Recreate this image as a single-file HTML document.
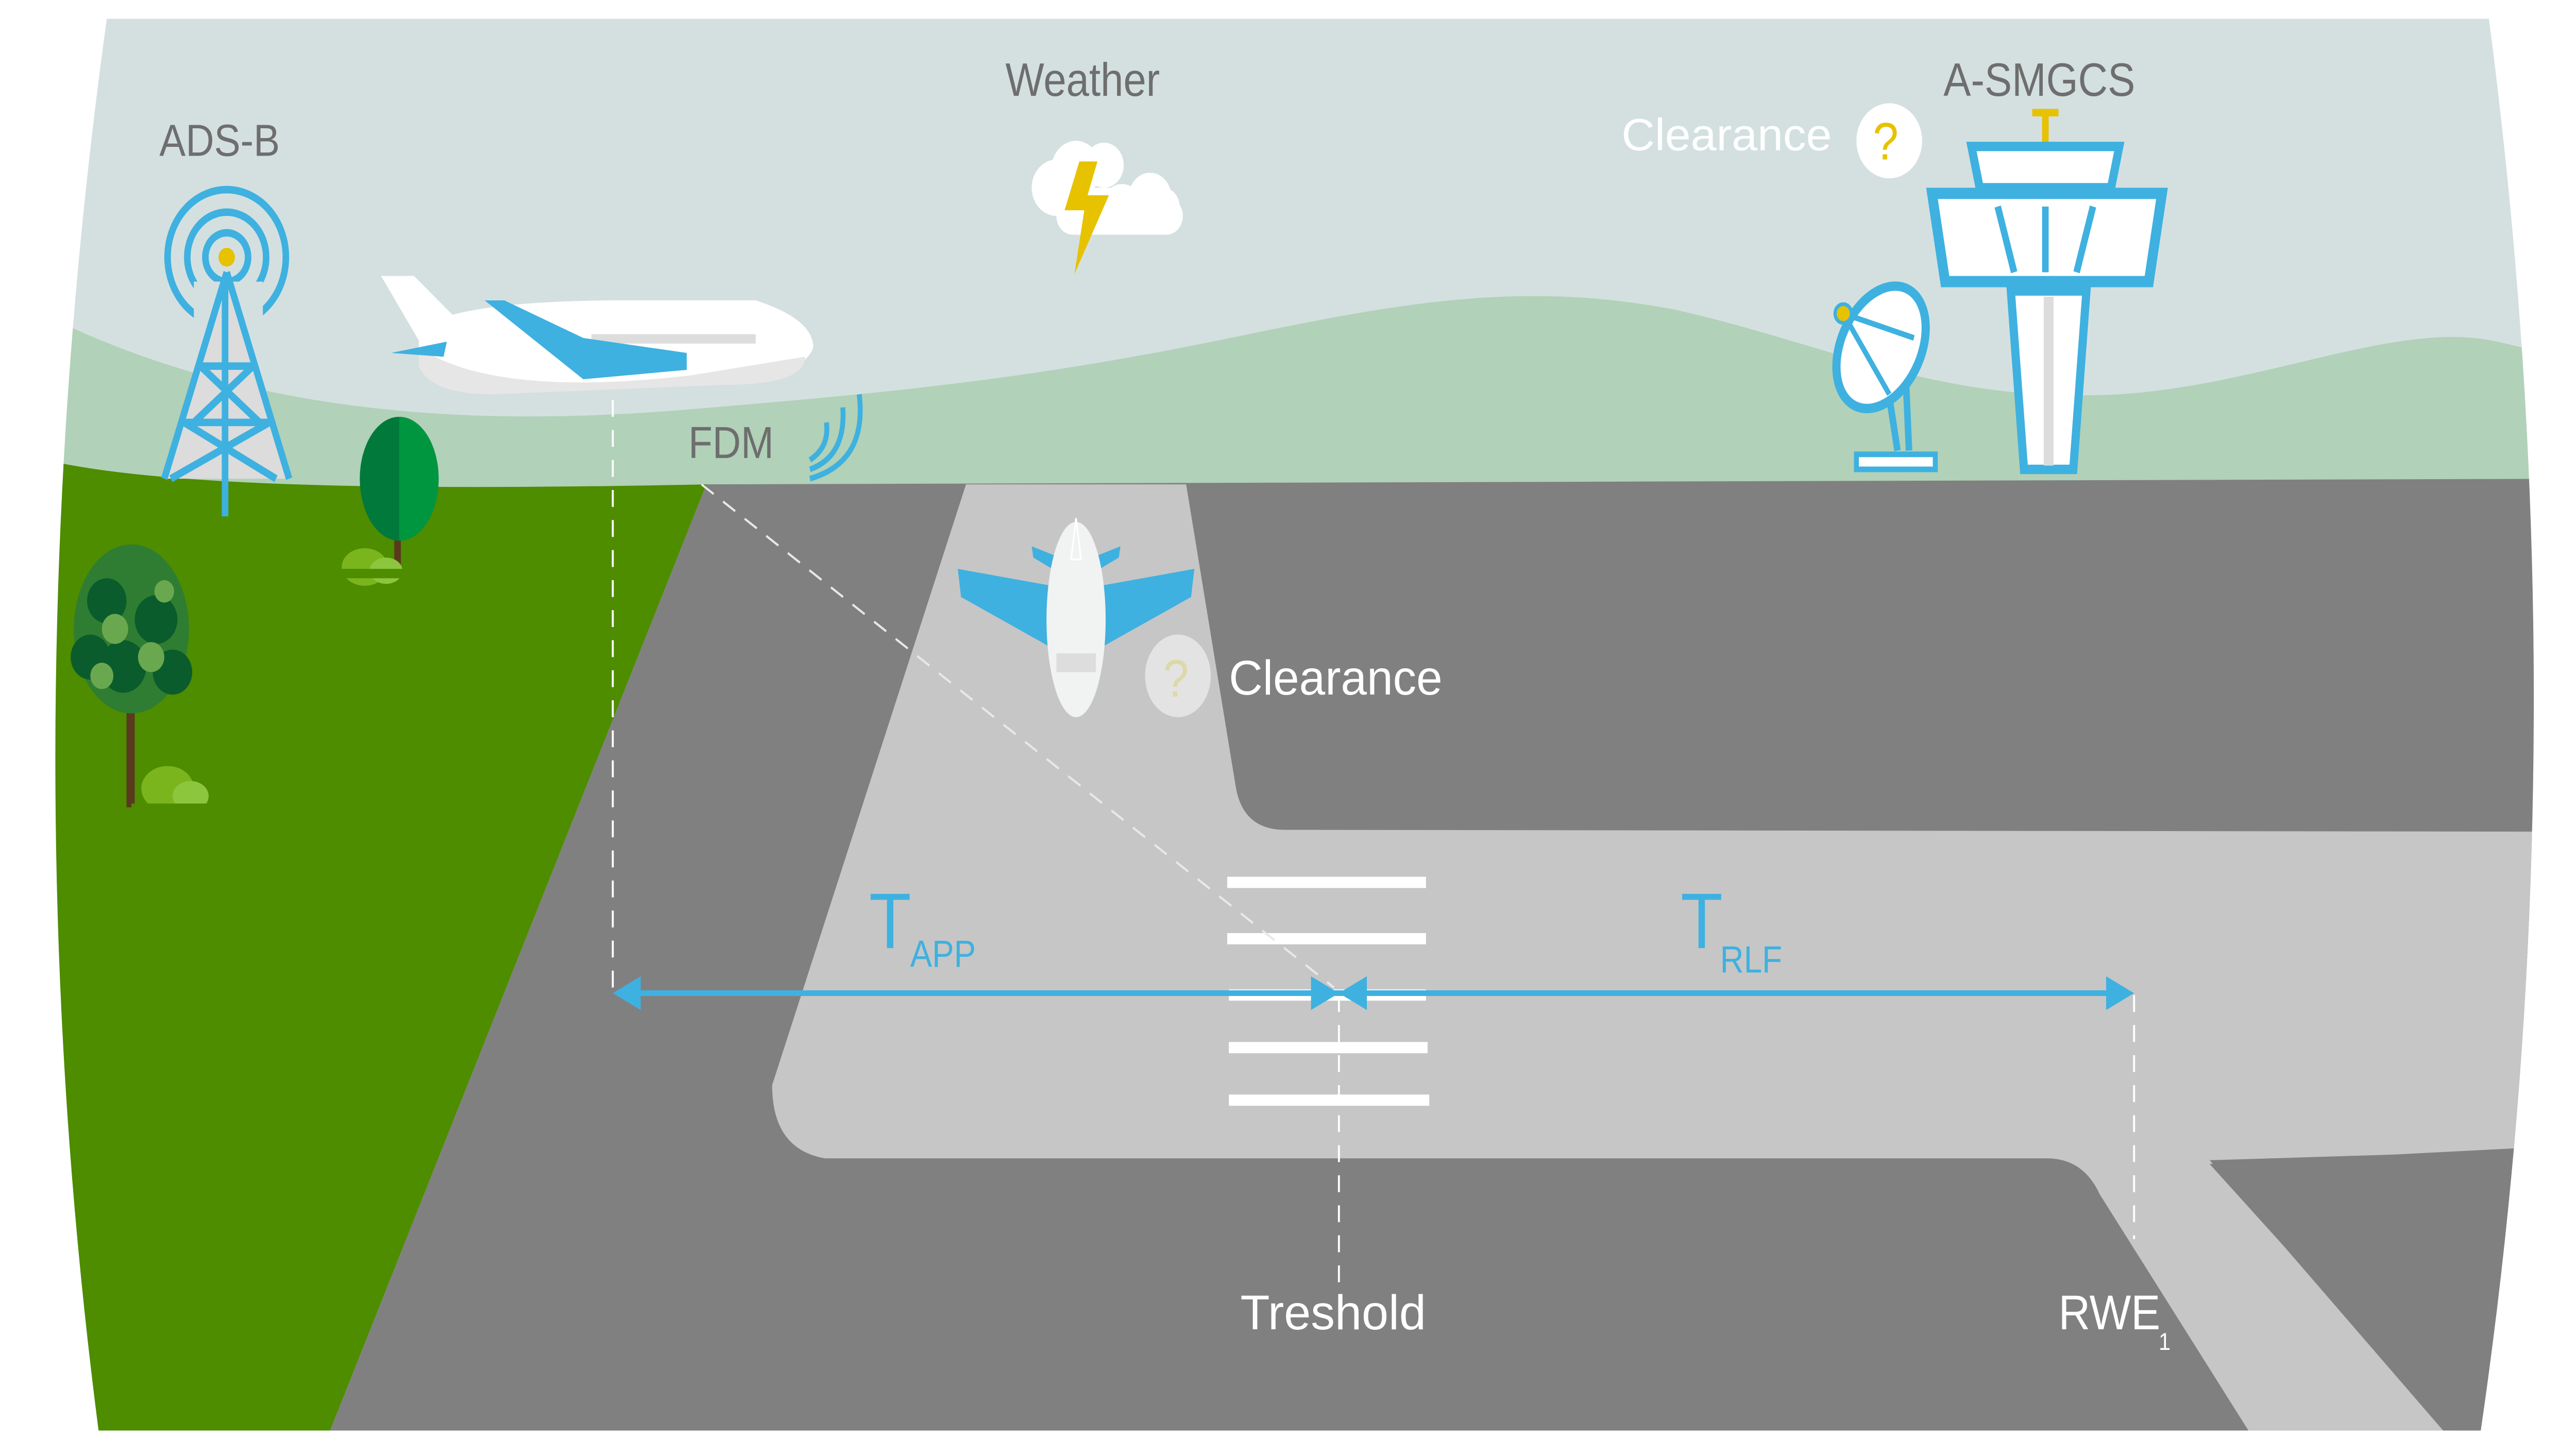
<!DOCTYPE html>
<html><head><meta charset="utf-8"><style>
html,body{margin:0;padding:0;background:#fff;overflow:hidden;width:100%;height:100%;}
svg{display:block;width:100vw;height:100vh;}
text{font-family:"Liberation Sans",sans-serif;}
</style></head><body>
<svg viewBox="0 0 1568 775" preserveAspectRatio="none" xmlns="http://www.w3.org/2000/svg">
<defs>
<clipPath id="frame"><path d="M65,10 L1515,10 Q1572,390 1510,762 L60,762 Q5,390 65,10 Z"/></clipPath>
</defs>
<rect width="1568" height="775" fill="#fff"/>
<g clip-path="url(#frame)">
<rect x="0" y="0" width="1568" height="775" fill="#d4e0e0"/>
<path d="M0,155 C120,215 260,230 420,218 C560,208 640,200 760,178 C860,160 930,150 1020,165 C1120,185 1180,215 1290,210 C1380,205 1460,170 1520,182 C1545,187 1560,190 1568,195 L1568,262 L0,262 Z" fill="#b1d1b8"/>
<path d="M0,238 C60,258 200,262 430,258 L195,775 L0,775 Z" fill="#4e8c00"/>
<path d="M430,258 L1568,255 L1568,775 L195,775 Z" fill="#808080"/>
<path d="M588,258 L722,258 L752,418 Q756,442 782,442 L1568,443 L1568,612 L1345,618 L1500,775 L1378,775 L1278,636 Q1268,617 1246,617 L502,617 Q470,612 470,578 Z" fill="#c6c6c6"/>
<path d="M1345,620 L1568,610 L1568,775 L1505,775 Z" fill="#808080"/>
<g fill="#fff">
<rect x="747" y="467" width="121" height="6"/>
<rect x="747" y="497" width="121" height="6"/>
<rect x="748" y="527" width="120" height="6"/>
<rect x="748" y="555" width="121" height="6"/>
<rect x="748" y="583" width="122" height="6"/>
</g>
<g stroke="#fff" stroke-width="1.2" stroke-dasharray="9,7" fill="none">
<line x1="373" y1="213" x2="373" y2="530"/>
<line x1="815" y1="530" x2="815" y2="685"/>
<line x1="1299" y1="530" x2="1299" y2="660"/>
</g>
<line x1="427" y1="258" x2="812" y2="526" stroke="#e8e8e8" stroke-width="1.2" stroke-dasharray="9,7"/>
<line x1="380" y1="529" x2="1290" y2="529" stroke="#3eb1e0" stroke-width="3"/>
<path d="M373,529 L390,520 L390,538 Z" fill="#3eb1e0"/>
<path d="M815,529 L798,520 L798,538 Z" fill="#3eb1e0"/>
<path d="M815,529 L832,520 L832,538 Z" fill="#3eb1e0"/>
<path d="M1299,529 L1282,520 L1282,538 Z" fill="#3eb1e0"/>
<text x="529" y="505" font-size="42" fill="#3eb1e0">T</text>
<text x="554" y="515" font-size="20" fill="#3eb1e0">APP</text>
<text x="1023" y="505" font-size="42" fill="#3eb1e0">T</text>
<text x="1047" y="518" font-size="20" fill="#3eb1e0">RLF</text>
<text x="755" y="708" font-size="26" fill="#fff" textLength="113" lengthAdjust="spacingAndGlyphs">Treshold</text>
<text x="1253" y="708" font-size="26" fill="#fff" textLength="62" lengthAdjust="spacingAndGlyphs">RWE</text>
<text x="1314" y="719" font-size="13" fill="#fff">1</text>
<path d="M640,312 L583,303 L585,318 L640,345 Z" fill="#3eb1e0"/>
<path d="M670,312 L727,303 L725,318 L670,345 Z" fill="#3eb1e0"/>
<path d="M648,298 L628,291 L629,297 L650,308 Z M662,298 L682,291 L681,297 L660,308 Z" fill="#3eb1e0"/>
<ellipse cx="655" cy="330" rx="18" ry="52" fill="#f1f2f2"/>
<path d="M652,298 L655,276 L658,298 Z" fill="#f1f2f2" stroke="#fff"/>
<rect x="643" y="348" width="24" height="10" fill="#ddd"/>
<ellipse cx="717" cy="360" rx="20" ry="22" fill="#e3e3e3"/>
<text x="708" y="371" font-size="28" fill="#ddd8a8">?</text>
<text x="748" y="370" font-size="26" fill="#fff" textLength="130" lengthAdjust="spacingAndGlyphs">Clearance</text>
<path d="M232,147 L252,147 L295,185 L262,192 Z" fill="#fff"/>
<path d="M255,175 Q280,160 380,160 L460,160 Q495,170 495,185 Q490,200 440,202 L300,208 Q265,208 255,195 Z" fill="#fff"/>
<path d="M255,185 Q300,212 420,200 L490,190 Q490,205 440,205 L300,210 Q262,210 255,195 Z" fill="#e6e6e6"/>
<g fill="#ddd"><rect x="360" y="178" width="100" height="5"/></g>
<path d="M295,160 L307,160 L355,180 L418,188 L418,197 L355,202 Z" fill="#3eb1e0"/>
<path d="M238,188 L272,182 L270,190 Z" fill="#3eb1e0"/>
<text x="419" y="244" font-size="24" fill="#6e6e6e">FDM</text>
<g fill="none" stroke="#3eb1e0" stroke-width="3">
<path d="M493,245 Q505,238 503,225"/>
<path d="M493,250 Q515,243 513,217"/>
<path d="M493,255 Q528,246 523,210"/>
</g>
<text x="97" y="83" font-size="24" fill="#6e6e6e">ADS-B</text>
<g fill="none" stroke="#3eb1e0" stroke-width="4">
<circle cx="138" cy="137" r="13"/>
<circle cx="138" cy="137" r="24"/>
<circle cx="138" cy="137" r="36"/>
</g>
<rect x="118" y="150" width="42" height="30" fill="#d4e0e0"/>
<circle cx="138" cy="137" r="5" fill="#e6c200"/>
<path d="M138,145 L100,255 L176,255 Z" fill="#dcdcdc"/>
<g stroke="#3eb1e0" stroke-width="4" fill="none">
<path d="M138,145 L100,255 M138,145 L176,255 M137,150 L137,275"/>
<path d="M122,195 L154,195 M112,225 L164,225 M122,195 L158,225 M154,195 L118,225 M112,225 L168,255 M164,225 L104,255"/>
</g>
<rect x="240" y="265" width="4" height="40" fill="#5a3a1e"/>
<ellipse cx="243" cy="255" rx="24" ry="33" fill="#00793b"/>
<path d="M243,222 A24,33 0 0 1 243,288 Z" fill="#009640"/>
<ellipse cx="222" cy="302" rx="14" ry="10" fill="#7ab51d"/>
<ellipse cx="235" cy="304" rx="10" ry="7" fill="#8cc63f"/>
<rect x="200" y="303" width="48" height="5" fill="#4e8c00"/>
<rect x="77" y="330" width="5" height="100" fill="#5a3a1e"/>
<ellipse cx="80" cy="335" rx="35" ry="45" fill="#2e7d32"/>
<g fill="#0b5c2c"><circle cx="65" cy="320" r="12"/><circle cx="95" cy="330" r="13"/><circle cx="75" cy="355" r="14"/><circle cx="105" cy="358" r="12"/><circle cx="55" cy="350" r="12"/></g>
<g fill="#6aa84f"><circle cx="70" cy="335" r="8"/><circle cx="92" cy="350" r="8"/><circle cx="62" cy="360" r="7"/><circle cx="100" cy="315" r="6"/></g>
<ellipse cx="102" cy="420" rx="16" ry="12" fill="#7ab51d"/>
<ellipse cx="116" cy="424" rx="11" ry="8" fill="#8cc63f"/>
<rect x="80" y="428" width="60" height="6" fill="#4e8c00"/>
<text x="612" y="51" font-size="25" fill="#6e6e6e">Weather</text>
<g fill="#fff">
<circle cx="655" cy="90" r="15"/><circle cx="643" cy="100" r="15"/><circle cx="672" cy="88" r="12"/>
<circle cx="700" cy="105" r="13"/><circle cx="710" cy="115" r="10"/><circle cx="683" cy="110" r="12"/>
<rect x="643" y="100" width="75" height="25" rx="10"/>
</g>
<path d="M657,86 L668,86 L662,104 L675,104 L654,146 L660,112 L648,112 Z" fill="#e6c200"/>
<text x="1183" y="51" font-size="25" fill="#6e6e6e">A-SMGCS</text>
<text x="987" y="80" font-size="24" fill="#fff" textLength="128" lengthAdjust="spacingAndGlyphs">Clearance</text>
<circle cx="1150" cy="75" r="20" fill="#fff"/>
<text x="1140" y="85" font-size="28" fill="#e6c200">?</text>
<path d="M1237,60 L1253,60 M1245,60 L1245,78" stroke="#e6c200" stroke-width="4"/>
<path d="M1200,78 L1290,78 L1285,100 L1205,100 Z" fill="#fff" stroke="#3eb1e0" stroke-width="5"/>
<path d="M1176,103 L1316,103 L1308,150 L1184,150 Z" fill="#fff" stroke="#3eb1e0" stroke-width="6"/>
<g stroke="#3eb1e0" stroke-width="4"><line x1="1216" y1="110" x2="1226" y2="145"/><line x1="1274" y1="110" x2="1264" y2="145"/><line x1="1245" y1="110" x2="1245" y2="145"/></g>
<path d="M1224,155 L1270,155 L1262,250 L1232,250 Z" fill="#fff" stroke="#3eb1e0" stroke-width="5"/>
<line x1="1247" y1="158" x2="1247" y2="248" stroke="#dcdcdc" stroke-width="6"/>
<path d="M1148,200 L1155,240 M1160,200 L1162,240" stroke="#3eb1e0" stroke-width="4"/>
<rect x="1130" y="242" width="48" height="8" fill="#fff" stroke="#3eb1e0" stroke-width="3"/>
<ellipse cx="1145" cy="185" rx="24" ry="35" transform="rotate(30 1145 185)" fill="#fff" stroke="#3eb1e0" stroke-width="5"/>
<path d="M1122,167 L1150,210 M1122,167 L1165,180" stroke="#3eb1e0" stroke-width="3"/>
<circle cx="1122" cy="167" r="5" fill="#e6c200" stroke="#3eb1e0" stroke-width="2"/>
</g>
</svg>
</body></html>
